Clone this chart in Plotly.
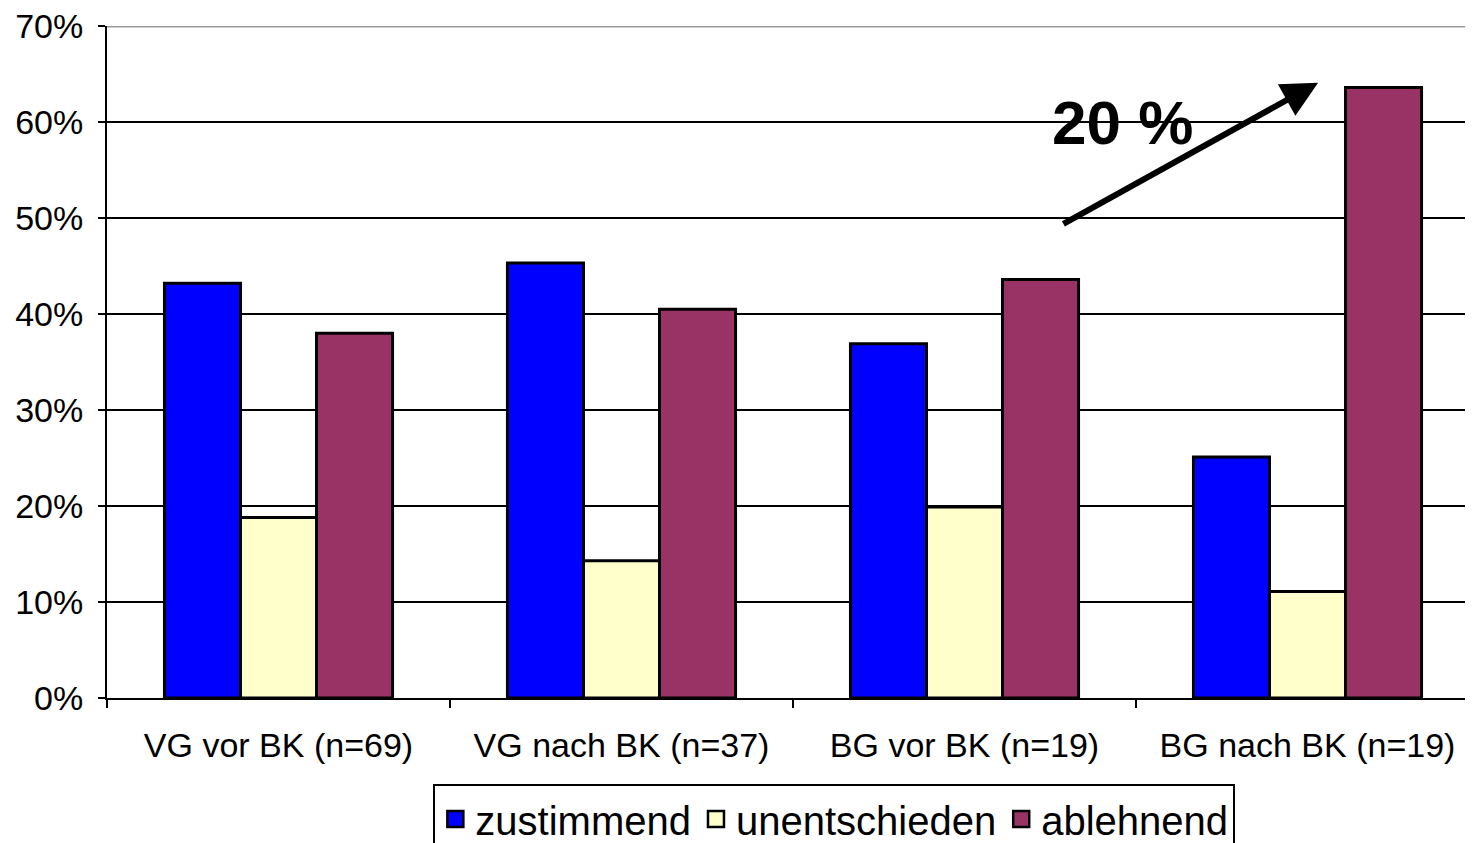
import plotly.graph_objects as go

categories = ["VG vor BK (n=69)", "VG nach BK (n=37)", "BG vor BK (n=19)", "BG nach BK (n=19)"]
zustimmend = [0.432, 0.453, 0.369, 0.251]
unentschieden = [0.188, 0.143, 0.199, 0.111]
ablehnend = [0.380, 0.405, 0.436, 0.636]
y_ticks = [0, 0.1, 0.2, 0.3, 0.4, 0.5, 0.6, 0.7]
arrow_label = "20 %"

font = "Liberation Sans, Arial, sans-serif"
fig = go.Figure()
series = [("zustimmend", zustimmend, "#0000FF"),
          ("unentschieden", unentschieden, "#FFFFCC"),
          ("ablehnend", ablehnend, "#993366")]
for name, vals, col in series:
    fig.add_trace(go.Bar(name=name, x=categories, y=vals, showlegend=False,
                         legendgroup=name,
                         marker=dict(color=col, line=dict(color="black", width=3))))
# legend entries with square swatches
for name, vals, col in series:
    fig.add_trace(go.Scatter(name=name, x=[None], y=[None], mode="markers",
                             legendgroup=name,
                             marker=dict(symbol="square", size=16, color=col,
                                         line=dict(color="black", width=2.5))))

fig.update_layout(
    width=1473, height=843,
    margin=dict(l=99, r=2, t=18, b=153),
    plot_bgcolor="white", paper_bgcolor="white",
    barmode="group", bargap=0.335, bargroupgap=0,
    font=dict(family=font, color="black"),
    showlegend=True,
    legend=dict(orientation="h", xref="container", yref="container",
                x=0.561, xanchor="center", y=0.079, yanchor="top",
                font=dict(size=40, family=font), bordercolor="black", borderwidth=2,
                itemsizing="trace", traceorder="normal", itemwidth=30,
                tracegroupgap=0),
)
fig.update_xaxes(range=[-0.5, 3.5], showline=True, linecolor="black", linewidth=2,
                 ticks="outside", tickson="boundaries", ticklen=8, tickcolor="black",
                 tickwidth=2, tickfont=dict(size=34, family=font), ticklabelstandoff=16,
                 showgrid=False, automargin=False, ticklabeloverflow="allow")
fig.update_yaxes(range=[0, 0.7], tickvals=y_ticks, tickformat=".0%", showline=True,
                 linecolor="black", linewidth=2, ticks="outside", ticklen=7,
                 tickcolor="black", tickwidth=2, showgrid=True, gridcolor="black",
                 gridwidth=1.5, tickfont=dict(size=34, family=font), ticklabelstandoff=8,
                 zeroline=False, automargin=False, ticklabeloverflow="allow")
fig.add_shape(type="line", xref="paper", yref="y", x0=0, x1=1, y0=0.7, y1=0.7,
              line=dict(color="#999999", width=3))
fig.add_annotation(x=3.031, y=0.641, ax=2.284, ay=0.493, xref="x", yref="y",
                   axref="x", ayref="y", showarrow=True, arrowhead=2, arrowsize=1.2,
                   arrowwidth=6, arrowcolor="black", text="")
fig.add_annotation(x=2.46, y=0.599, xref="x", yref="y", text="<b>" + arrow_label + "</b>",
                   showarrow=False, font=dict(size=62, family=font, color="black"),
                   xanchor="center", yanchor="middle")
fig.write_html("out.html")
